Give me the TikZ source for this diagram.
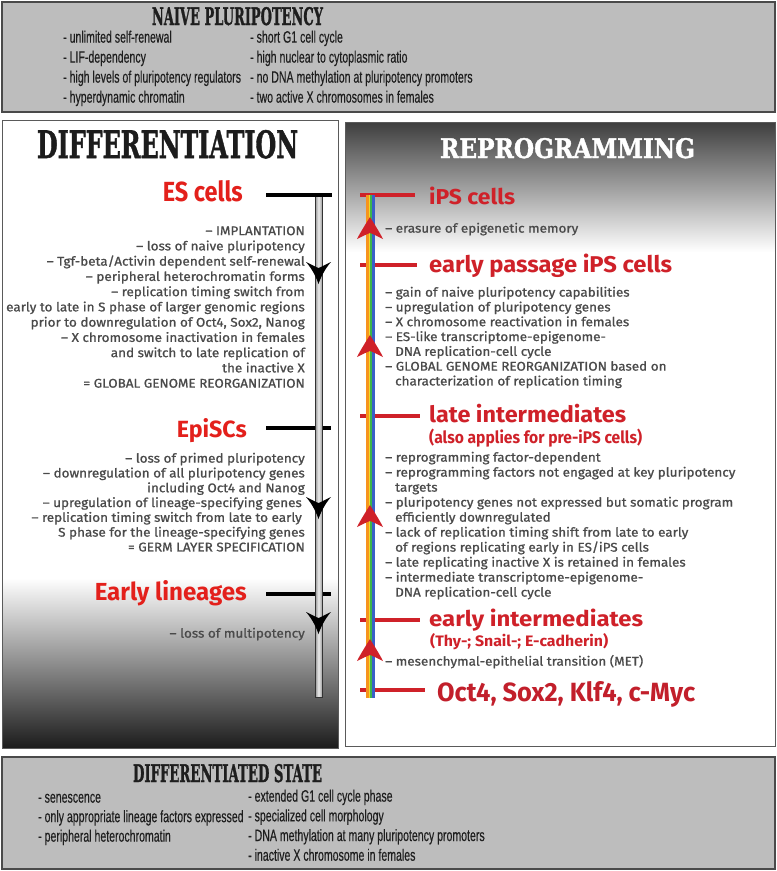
\documentclass[tikz,border=0pt]{standalone}
\usepackage{fontspec}
\usepackage{graphicx}
\usetikzlibrary{calc}
\setmainfont{Fira Sans}
\newfontfamily\boxfont{Liberation Sans}[FakeStretch=0.64, FakeBold=0.3]
\newfontfamily\stencilfont{DejaVu Serif}[FakeBold=1.5]
\newfontfamily\labfont{Fira Sans}[FakeStretch=0.8]
\newfontfamily\panelfont{Fira Sans}[FakeStretch=1.07, FakeBold=1]
\definecolor{boxgray}{HTML}{BDBDBD}
\definecolor{boxline}{HTML}{4A4A4A}
\definecolor{boxtext}{HTML}{1E1E1E}
\definecolor{panelline}{HTML}{5A5A5A}
\definecolor{panelblack}{HTML}{1C1C1C}
\definecolor{txtgray}{HTML}{4A4A4A}
\definecolor{labred}{HTML}{E3201B}
\definecolor{rightred}{HTML}{CF2129}
\definecolor{darkred}{HTML}{C21F2B}
\definecolor{rbO}{HTML}{F7941D}
\definecolor{rbY}{HTML}{E8DC2A}
\definecolor{rbG}{HTML}{3DB54A}
\definecolor{rbB}{HTML}{3A5FC8}
\newcommand\myfit[3]{\resizebox{#1pt}{#2pt}{#3}}
\tikzset{
  ptR/.style={anchor=mid east, inner sep=0pt, text=txtgray, font=\panelfont\fontsize{12.6}{14}\selectfont},
  ptL/.style={anchor=mid west, inner sep=0pt, text=txtgray, font=\panelfont\fontsize{12.6}{14}\selectfont},
  boxtxt/.style={anchor=mid west, inner sep=0pt, text=boxtext, font=\boxfont\fontsize{16.5}{18}\selectfont},
  ttl/.style={anchor=base, inner sep=0pt, font=\stencilfont\bfseries},
  redlab/.style={inner sep=0pt, text=labred, font=\labfont\bfseries},
  blacktick/.style={line width=4pt, black},
  redtick/.style={line width=4pt, rightred},
  boxframe/.style={draw=boxline, line width=1.4pt},
  panelframe/.style={draw=panelline, line width=1pt},
  downhead/.pic={\fill[black] (0,22) .. controls (-3,13) and (-8,5) .. (-12.5,0) .. controls (-6,3) and (-3,5) .. (0,6) .. controls (3,5) and (6,3) .. (12.5,0) .. controls (8,5) and (3,13) .. (0,22) -- cycle;},
  uphead/.pic={\fill[rightred] (0,-22) .. controls (-5,-14) and (-10,-6) .. (-13,0) .. controls (-7,-3) and (-3,-5) .. (0,-6) .. controls (3,-5) and (7,-3) .. (13,0) .. controls (10,-6) and (5,-14) .. (0,-22) -- cycle;}
}
\begin{document}
\begin{tikzpicture}[x=1pt,y=-1pt]
\useasboundingbox (0,0) rectangle (777,871);
\fill[white] (0,0) rectangle (777,871);
% top box
\fill[boxgray] (2,2) rectangle (775,112);
\draw[boxframe] (2,2) rectangle (775,112);
% left panel
\fill[white] (2,120) rectangle (338,748);
\shade[top color=white, bottom color=panelblack] (2,578) rectangle (338,748);
\draw[panelframe] (2,120) rectangle (338,748);
% right panel
\fill[white] (345,122) rectangle (775,746);
\shade[top color=panelblack!85, bottom color=white] (345,122) rectangle (775,252);
\draw[panelframe] (345,122) rectangle (775,746);
% bottom box
\fill[boxgray] (2,757) rectangle (775,869);
\draw[boxframe] (2,757) rectangle (775,869);

% titles
\node[ttl, text=boxtext] (tNaive) at (237.5,25) {\myfit{171}{18}{NAIVE PLURIPOTENCY}};
\node[ttl, text=panelblack] (tDiff) at (167.5,158) {\myfit{261}{28}{DIFFERENTIATION}};
\node[ttl, text=white] (tRep) at (567.5,158) {\myfit{255}{20}{REPROGRAMMING}};
\node[ttl, text=boxtext] (tState) at (227.5,782) {\myfit{189}{18}{DIFFERENTIATED STATE}};

% top box lines
\foreach \t [count=\i] in {{- unlimited self-renewal},{- LIF-dependency},{- high levels of pluripotency regulators},{- hyperdynamic chromatin}}
  \node[boxtxt] (nl\i) at (63,{40+20*(\i-1)}) {\t};
\foreach \t [count=\i] in {{- short G1 cell cycle},{- high nuclear to cytoplasmic ratio},{- no DNA methylation at pluripotency promoters},{- two active X chromosomes in females}}
  \node[boxtxt] (nr\i) at (250,{40+20*(\i-1)}) {\t};
% bottom box lines
\foreach \t [count=\i] in {{- senescence},{- only appropriate lineage factors expressed},{- peripheral heterochromatin}}
  \node[boxtxt] (dl\i) at (38,{800+19.5*(\i-1)}) {\t};
\foreach \t [count=\i] in {{- extended G1 cell cycle phase},{- specialized cell morphology},{- DNA methylation at many pluripotency promoters},{- inactive X chromosome in females}}
  \node[boxtxt] (dr\i) at (248,{799+19.7*(\i-1)}) {\t};

% left ticks and bar
\coordinate (esA) at (266,195); \coordinate (esB) at (332,195);
\coordinate (epA) at (266,427.5); \coordinate (epB) at (331,427.5);
\coordinate (elA) at (266,593.5); \coordinate (elB) at (331,593.5);
\draw[blacktick] (epA) -- (epB);
\draw[blacktick] (elA) -- (elB);
\coordinate (Ltop) at (318.5,195); \coordinate (Lbot) at (318.5,697);
\shade[left color=gray!85, right color=gray!75, middle color=gray!15] ($(Ltop)+(-3.5,0)$) rectangle ($(Lbot)+(3.5,0)$);
\draw[gray!40!black, line width=0.5pt] ($(Ltop)+(-3.5,0)$) rectangle ($(Lbot)+(3.5,0)$);
\draw[blacktick] (esA) -- (esB);
\pic at (318.5,262) {downhead};
\pic at (318.5,497) {downhead};
\pic at (318.5,612) {downhead};

% right ticks and rainbow bar
\coordinate (ipA) at (360,195); \coordinate (ipB) at (415,195);
\coordinate (epsA) at (360,265); \coordinate (epsB) at (417,265);
\coordinate (liA) at (360,415.5); \coordinate (liB) at (420,415.5);
\coordinate (eiA) at (360,619.5); \coordinate (eiB) at (420,619.5);
\coordinate (ocA) at (360,690); \coordinate (ocB) at (425,690);
\draw[redtick] (ipA) -- (ipB);
\draw[redtick] (epsA) -- (epsB);
\draw[redtick] (liA) -- (liB);
\draw[redtick] (eiA) -- (eiB);
\draw[redtick] (ocA) -- (ocB);
\coordinate (Rtop) at (370,195); \coordinate (Rbot) at (370,698);
\foreach \a/\b/\c in {-4.5/-1.2/rbO, -1.2/0.3/rbY, 0.3/1.8/rbG, 1.8/4.5/rbB}
  \fill[\c] ($(Rtop)+(\a,0)$) rectangle ($(Rbot)+(\b,0)$);
\pic at (370,239) {uphead};
\pic at (370,357) {uphead};
\pic at (370,527) {uphead};
\pic at (370,661) {uphead};

% red labels left
\node[redlab, anchor=base east] (es) at (243,201) {\myfit{80}{21}{ES cells}};
\node[redlab, anchor=base east] (epi) at (247,437) {\myfit{70}{19}{EpiSCs}};
\node[redlab, anchor=base east] (elin) at (247,600) {\myfit{152}{20}{Early lineages}};
% red labels right
\node[redlab, text=rightred, anchor=base west] (ips) at (429,204) {\myfit{86}{17.5}{iPS cells}};
\node[redlab, text=rightred, anchor=base west] (eps) at (429,272) {\myfit{243}{18.5}{early passage iPS cells}};
\node[redlab, text=rightred, anchor=base west] (late) at (429,422) {\myfit{197}{18.3}{late intermediates}};
\node[redlab, text=rightred, anchor=base west] (also) at (429,443.3) {\myfit{213}{14.5}{(also applies for pre-iPS cells)}};
\node[redlab, text=rightred, anchor=base west] (eint) at (429,626.7) {\myfit{214}{17.5}{early intermediates}};
\node[redlab, text=rightred, anchor=base west] (thy) at (430,646.7) {\myfit{178}{13}{(Thy-; Snail-; E-cadherin)}};
\node[redlab, anchor=base west, text=darkred] (oct) at (437,701.5) {\myfit{258}{20}{Oct4, Sox2, Klf4, c-Myc}};

% left panel text
\foreach \t [count=\i] in {{– IMPLANTATION},{– loss of naive pluripotency},{– Tgf-beta/Activin dependent self-renewal},{– peripheral heterochromatin forms},{– replication timing switch from},{early to late in S phase of larger genomic regions},{prior to downregulation of Oct4, Sox2, Nanog},{– X chromosome inactivation in females},{and switch to late replication of},{the inactive X},{= GLOBAL GENOME REORGANIZATION}}
  \node[ptR] (a\i) at (305,{232.5+15.25*(\i-1)}) {\t};
\foreach \t/\xx [count=\i] in {{– loss of primed pluripotency}/305,{– downregulation of all pluripotency genes}/305,{including Oct4 and Nanog}/305,{– upregulation of lineage-specifying genes}/302,{– replication timing switch from late to early}/302,{S phase for the lineage-specifying genes}/305,{= GERM LAYER SPECIFICATION}/305}
  \node[ptR] (b\i) at (\xx,{460+14.8*(\i-1)}) {\t};
\node[ptR] (c1) at (305,635) {– loss of multipotency};

% right panel text
\node[ptL] (r0) at (385,230) {– erasure of epigenetic memory};
\foreach \t/\xx [count=\i] in {{– gain of naive pluripotency capabilities}/385,{– upregulation of pluripotency genes}/385,{– X chromosome reactivation in females}/385,{– ES-like transcriptome-epigenome-}/385,{DNA replication-cell cycle}/395,{– GLOBAL GENOME REORGANIZATION based on}/385,{characterization of replication timing}/395}
  \node[ptL] (r\i) at (\xx,{294+14.8*(\i-1)}) {\t};
\foreach \t/\xx [count=\i] in {{– reprogramming factor-dependent}/385,{– reprogramming factors not engaged at key pluripotency}/385,{targets}/395,{– pluripotency genes not expressed but somatic program}/385,{efficiently downregulated}/395,{– lack of replication timing shift from late to early}/385,{of regions replicating early in ES/iPS cells}/395,{– late replicating inactive X is retained in females}/385,{– intermediate transcriptome-epigenome-}/385,{DNA replication-cell cycle}/395}
  \node[ptL] (s\i) at (\xx,{459+15*(\i-1)}) {\t};
\node[ptL] (m1) at (385,663) {– mesenchymal-epithelial transition (MET)};
\end{tikzpicture}
\end{document}
